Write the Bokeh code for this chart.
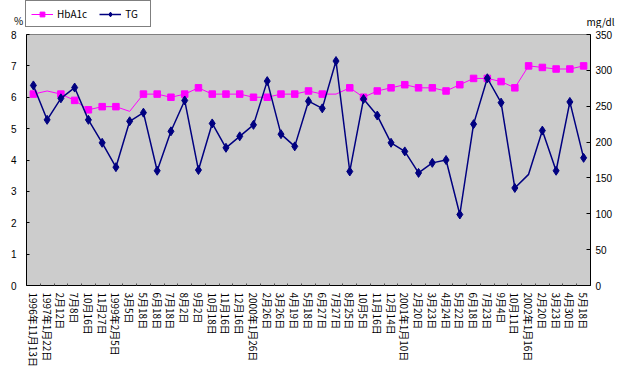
from bokeh.plotting import figure
from bokeh.layouts import column
from bokeh.models import (Range1d, LinearAxis, FixedTicker, Legend, LegendItem,
                          Label, ColumnDataSource)
from bokeh.embed import file_html
from bokeh.resources import INLINE

# ---- data -------------------------------------------------------------
dates = [
    "1996年11月13日", "1997年1月22日", "2月12日", "7月8日", "10月16日", "11月27日",
    "1999年2月5日", "3月5日", "5月18日", "6月18日", "7月18日", "8月2日", "9月2日",
    "10月18日", "11月16日", "12月16日", "2000年1月26日", "2月26日", "3月26日",
    "4月19日", "5月18日", "6月27日", "7月27日", "8月25日", "10月5日", "11月16日",
    "12月14日", "2001年1月10日", "2月20日", "3月23日", "4月24日", "5月22日",
    "6月18日", "7月23日", "9月4日", "10月11日", "2002年1月16日", "2月20日",
    "3月23日", "4月30日", "5月18日",
]
hba1c = [6.1, 6.2, 6.1, 5.9, 5.6, 5.7, 5.7, 5.55, 6.1, 6.1, 6.0, 6.1, 6.3, 6.1,
         6.1, 6.1, 6.0, 6.0, 6.1, 6.1, 6.2, 6.1, 6.1, 6.3, 6.0, 6.2, 6.3, 6.4,
         6.3, 6.3, 6.2, 6.4, 6.6, 6.6, 6.5, 6.3, 7.0, 6.95, 6.9, 6.9, 7.0]
tg = [279, 231, 261, 276, 231, 199, 165, 229, 241, 160, 215, 258, 161, 226,
      192, 208, 224, 285, 211, 194, 257, 247, 313, 159, 260, 237, 199, 187,
      157, 171, 175, 99, 225, 289, 255, 136, 155, 216, 160, 256, 178]
# points drawn without a marker in the original
hba1c_no_marker = [1, 7, 22]
tg_no_marker = [36]

left_ticks = [0, 1, 2, 3, 4, 5, 6, 7, 8]
right_ticks = [0, 50, 100, 150, 200, 250, 300, 350]
series_names = ["HbA1c", "TG"]
unit_left, unit_right = "%", "mg/dl"

FONT = "Noto Sans CJK JP"
NUM_FONT = "Liberation Sans"
HB_COLOR = "#FF00FF"
TG_COLOR = "#000080"
n = len(dates)
xs = list(range(n))
NAN = float("nan")

# ---- main chart -------------------------------------------------------
p = figure(frame_width=564, frame_height=251, output_backend="svg",
           toolbar_location=None,
           x_range=Range1d(-0.5, n - 0.5), y_range=Range1d(0, 8),
           min_border_left=26, min_border_right=31, min_border_top=6,
           min_border_bottom=84)
p.background_fill_color = "#CCCCCC"
p.border_fill_color = "white"
p.outline_line_color = "#808080"
p.grid.visible = False
p.extra_y_ranges = {"tg": Range1d(0, 350)}

xa = p.xaxis[0]
xa.ticker = FixedTicker(ticks=xs, minor_ticks=[i + 0.5 for i in range(n - 1)])
xa.major_label_overrides = {i: d for i, d in enumerate(dates)}
xa.major_label_orientation = "vertical"
xa.major_tick_in = 0
xa.major_tick_out = 0
xa.minor_tick_in = 2
xa.minor_tick_out = 0
xa.minor_tick_line_color = "#555555"
xa.major_label_standoff = 7
xa.major_label_text_font = FONT
xa.major_label_text_font_size = "10px"
xa.major_label_text_color = "black"
xa.axis_line_color = "black"

ya = p.yaxis[0]
ya.ticker = FixedTicker(ticks=left_ticks)
ya.major_tick_in = 3
ya.major_tick_out = 0
ya.minor_tick_line_color = None
ya.major_label_standoff = 10
ya.major_label_text_font = NUM_FONT
ya.major_label_text_font_size = "10px"
ya.major_label_text_color = "black"
ya.axis_line_color = "black"

ra = LinearAxis(y_range_name="tg", ticker=FixedTicker(ticks=right_ticks))
ra.major_tick_in = 4
ra.major_tick_out = 0
ra.minor_tick_line_color = None
ra.major_label_standoff = 5
ra.major_label_text_font = NUM_FONT
ra.major_label_text_font_size = "10px"
ra.major_label_text_color = "black"
ra.axis_line_color = "black"
p.add_layout(ra, "right")

hb_src = ColumnDataSource(dict(x=xs, y=hba1c))
hb_mk = ColumnDataSource(dict(x=[x for x in xs if x not in hba1c_no_marker],
                              y=[v for i, v in enumerate(hba1c) if i not in hba1c_no_marker]))
tg_src = ColumnDataSource(dict(x=xs, y=tg))
tg_mk = ColumnDataSource(dict(x=[x for x in xs if x not in tg_no_marker],
                              y=[v for i, v in enumerate(tg) if i not in tg_no_marker]))

p.line("x", "y", source=hb_src, line_color=HB_COLOR, line_width=1)
p.scatter("x", "y", source=hb_mk, marker="square", size=6.5,
          fill_color=HB_COLOR, line_color=HB_COLOR)
p.line("x", "y", source=tg_src, y_range_name="tg",
       line_color=TG_COLOR, line_width=1.5)
p.scatter("x", "y", source=tg_mk, y_range_name="tg", marker="diamond",
          size=9, fill_color=TG_COLOR, line_color=TG_COLOR)

# ---- header strip: legend and units ------------------------------------
HEAD_H = 28
h = figure(width=621, height=HEAD_H, output_backend="svg", toolbar_location=None,
           x_range=Range1d(0, 621), y_range=Range1d(0, HEAD_H),
           x_axis_type=None, y_axis_type=None, min_border=0)
h.frame_align = False
h.outline_line_color = None
h.grid.visible = False
h.background_fill_color = "white"
h.border_fill_color = "white"

# legend proxies (no visible data)
lh1 = h.line([NAN], [NAN], line_color=HB_COLOR, line_width=1)
mh1 = h.scatter([NAN], [NAN], marker="square", size=6.5, fill_color=HB_COLOR,
                line_color=HB_COLOR)
lh2 = h.line([NAN], [NAN], line_color=TG_COLOR, line_width=1.5)
mh2 = h.scatter([NAN], [NAN], marker="diamond", size=9,
                fill_color=TG_COLOR, line_color=TG_COLOR)

legend = Legend(items=[LegendItem(label=series_names[0], renderers=[lh1, mh1]),
                       LegendItem(label=series_names[1], renderers=[lh2, mh2])],
                orientation="horizontal", location=(25, 1), margin=0,
                padding=5, spacing=12, glyph_width=22, glyph_height=12,
                label_height=12, label_standoff=4, label_text_font=FONT,
                label_text_font_size="10px", label_text_color="black",
                border_line_color="black", border_line_width=1,
                background_fill_color="white", background_fill_alpha=1.0)
h.add_layout(legend)

h.add_layout(Label(x=18, y=1, text=unit_left, text_align="center",
                   text_baseline="bottom", text_font=FONT,
                   text_font_size="10px", text_color="black"))
h.add_layout(Label(x=586, y=0, text=unit_right, text_align="left",
                   text_baseline="bottom", text_font=FONT,
                   text_font_size="10px", text_color="black"))

layout = column(h, p, spacing=0)
open("out.html", "w").write(file_html(layout, INLINE))
